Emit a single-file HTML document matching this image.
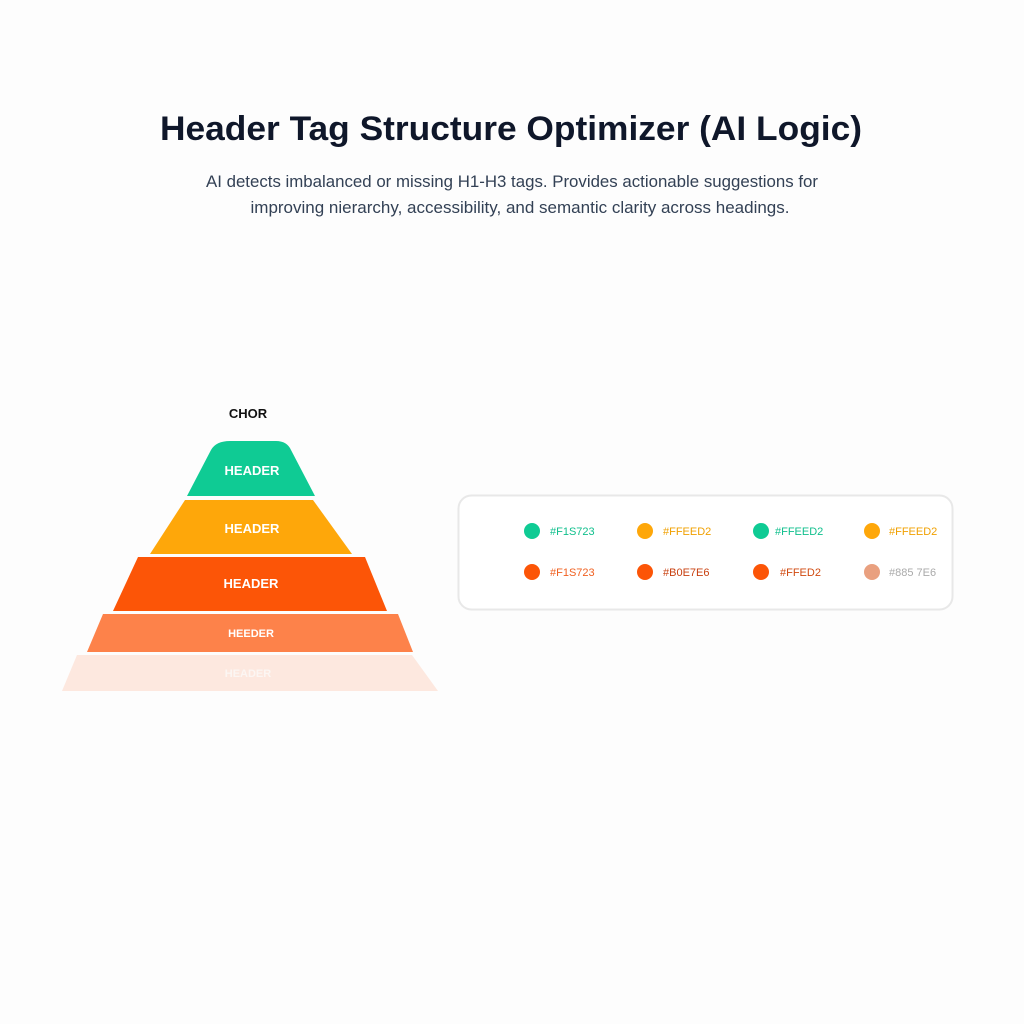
<!DOCTYPE html>
<html><head><meta charset="utf-8"><style>
html,body{margin:0;padding:0;background:#fdfdfd;}
svg{display:block;font-family:"Liberation Sans",sans-serif;}
</style></head><body>
<svg width="1024" height="1024" viewBox="0 0 1024 1024" xmlns="http://www.w3.org/2000/svg">
<rect width="1024" height="1024" fill="#fdfdfd"/>
<text x="511" y="140" text-anchor="middle" font-size="34" font-weight="bold" fill="#0f172a" textLength="702" lengthAdjust="spacingAndGlyphs">Header Tag Structure Optimizer (AI Logic)</text>
<text x="512" y="187" text-anchor="middle" font-size="17" fill="#334155" textLength="612" lengthAdjust="spacingAndGlyphs">AI detects imbalanced or missing H1-H3 tags. Provides actionable suggestions for</text>
<text x="520" y="213" text-anchor="middle" font-size="17" fill="#334155" textLength="539" lengthAdjust="spacingAndGlyphs">improving nierarchy, accessibility, and semantic clarity across headings.</text>

<text x="248" y="418" text-anchor="middle" font-size="13" font-weight="bold" fill="#111">CHOR</text>
<path d="M230 441 L276 441 Q287 441 291 450 L315 496 L187 496 L211 450 Q216 441 230 441 Z" fill="#0fcb94"/>
<polygon points="185,500 313,500 352,554 150,554" fill="#fea70a"/>
<polygon points="138,557 365,557 387,611 113,611" fill="#fc5507"/>
<polygon points="103,614 398,614 413,652 87,652" fill="#fd824a"/>
<polygon points="77,655 412,655 438,691 62,691" fill="#fde8df"/>
<g font-weight="bold" fill="#fff" text-anchor="middle">
<text x="252" y="475" font-size="13">HEADER</text>
<text x="252" y="533" font-size="13">HEADER</text>
<text x="251" y="588" font-size="13">HEADER</text>
<text x="251" y="637" font-size="11">HEEDER</text>
<text x="248" y="677" font-size="11" fill="#fcf6f3">HEADER</text>
</g>

<rect x="458.5" y="495.5" width="494" height="114" rx="13" fill="#fff" stroke="#e8e8e8" stroke-width="2"/>
<g font-size="11">
<circle cx="532" cy="531" r="8" fill="#0fcb94"/><text x="550" y="535" fill="#0fbf8c">#F1S723</text>
<circle cx="645" cy="531" r="8" fill="#fea70a"/><text x="663" y="535" fill="#f0a000">#FFEED2</text>
<circle cx="761" cy="531" r="8" fill="#0fcb94"/><text x="775" y="535" fill="#0fbf8c">#FFEED2</text>
<circle cx="872" cy="531" r="8" fill="#fea70a"/><text x="889" y="535" fill="#f0a000">#FFEED2</text>
<circle cx="532" cy="572" r="8" fill="#fc5507"/><text x="550" y="576" fill="#f06020">#F1S723</text>
<circle cx="645" cy="572" r="8" fill="#fc5507"/><text x="663" y="576" fill="#c84010">#B0E7E6</text>
<circle cx="761" cy="572" r="8" fill="#fc5507"/><text x="780" y="576" fill="#d04a10">#FFED2</text>
<circle cx="872" cy="572" r="8" fill="#e9a07f"/><text x="889" y="576" fill="#aaa">#885 7E6</text>
</g>
</svg>
</body></html>
